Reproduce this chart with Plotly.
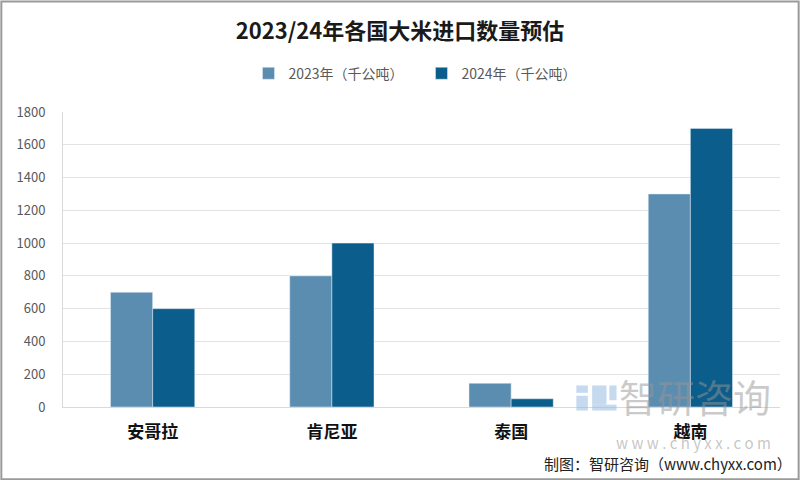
import plotly.graph_objects as go

categories = ["安哥拉", "肯尼亚", "泰国", "越南"]
values_2023 = [700, 800, 145, 1300]
values_2024 = [600, 1000, 50, 1700]
series_names = ["2023年（千公吨）", "2024年（千公吨）"]
y_ticks = [0, 200, 400, 600, 800, 1000, 1200, 1400, 1600, 1800]

c23 = "#5b8db0"
c24 = "#0b5d8b"
font_cjk = "Noto Sans CJK SC"

fig = go.Figure()
fig.add_trace(go.Bar(x=categories, y=values_2023, name=series_names[0], marker_color=c23))
fig.add_trace(go.Bar(x=categories, y=values_2024, name=series_names[1], marker_color=c24))

fig.update_layout(
    width=800, height=480,
    margin=dict(l=63, r=20, t=112, b=73),
    paper_bgcolor="white", plot_bgcolor="white",
    barmode="group", bargap=0.53, bargroupgap=0,
    font=dict(family=font_cjk, color="#595959"),
    title=dict(text="<b>2023/24年各国大米进口数量预估</b>", x=0.5, xanchor="center",
               y=0.935, yanchor="middle", font=dict(size=22, color="#1a1a1a", family=font_cjk)),
    legend=dict(orientation="h", x=0.5, xanchor="center", y=1.13, yanchor="middle",
                font=dict(size=14, color="#595959"), itemwidth=30, traceorder="normal",
                entrywidth=128, entrywidthmode="pixels"),
    showlegend=True,
)
fig.update_xaxes(showline=True, linecolor="#d9d9d9", linewidth=1, ticks="",
                 tickvals=categories, ticktext=["<b>%s</b>" % c for c in categories],
                 tickfont=dict(size=17, color="#111111", family=font_cjk),
                 ticklabelstandoff=10, showgrid=False)
fig.update_yaxes(range=[0, 1800], tickvals=y_ticks, showgrid=True, gridcolor="#e3e3e3",
                 showline=True, linecolor="#d9d9d9", zeroline=False,
                 tickfont=dict(size=13, color="#595959"), ticks="", ticklen=0,
                 ticklabelstandoff=14)

# watermark logo (light blue blocks)
wm_blocks = [(0.738, 0.758, 0.02, 0.085), (0.738, 0.772, 0.0, 0.02), (0.762, 0.772, 0.035, 0.085),
             (0.716, 0.732, 0.0, 0.05), (0.716, 0.732, 0.06, 0.085)]
for x0, x1, y0, y1 in wm_blocks:
    fig.add_shape(type="rect", xref="paper", yref="paper", x0=x0, x1=x1, y0=y0 - 0.012, y1=y1 - 0.012,
                  line=dict(width=0), fillcolor="rgba(150,185,225,0.55)")
fig.add_annotation(text="智研咨询", xref="paper", yref="paper", x=0.99, y=0.04, xanchor="right",
                   yanchor="middle", showarrow=False, font=dict(size=38, color="rgba(150,150,150,0.5)"))
fig.add_annotation(text="w w w . c h y x x . c o m", xref="paper", yref="paper", x=0.99, y=-0.12,
                   xanchor="right", yanchor="middle", showarrow=False,
                   font=dict(size=15, color="rgba(150,150,150,0.55)"))
# source
fig.add_annotation(text="制图：智研咨询（www.chyxx.com）", xref="paper", yref="paper", x=1.02, y=-0.19,
                   xanchor="right", yanchor="middle", showarrow=False,
                   font=dict(size=15, color="#222222"))
# frame
fig.add_shape(type="rect", xref="paper", yref="paper", x0=-0.086, x1=1.026, y0=-0.245, y1=1.375,
              line=dict(color="#9a9a9a", width=2), fillcolor="rgba(0,0,0,0)", layer="below")

fig.write_html("out.html")
